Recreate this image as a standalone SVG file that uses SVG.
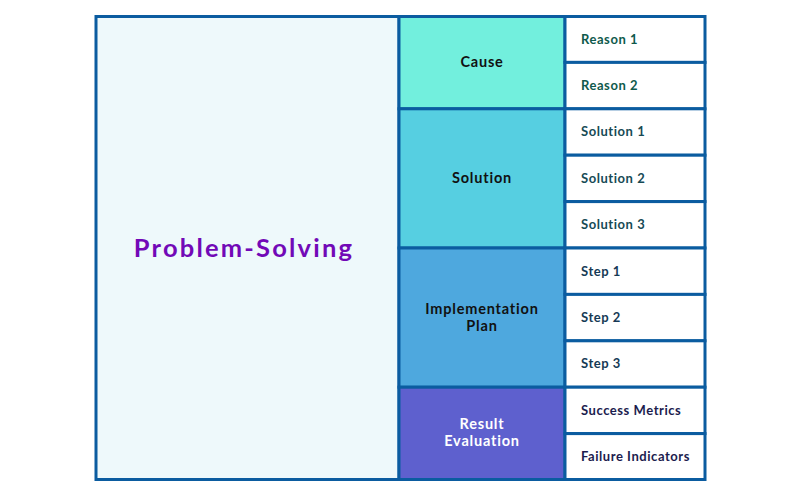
<svg xmlns="http://www.w3.org/2000/svg" width="800" height="495" viewBox="0 0 800 495">
<style>
rect{stroke:#0b5ca0;stroke-width:3}
text{font-family:Lato,"Liberation Sans",sans-serif;font-weight:700}
.cat{font-size:14.5px;letter-spacing:0.8px;text-anchor:middle;dominant-baseline:central}
.leaf{font-size:13px;letter-spacing:0.55px;dominant-baseline:central}
</style>
<rect width="800" height="495" fill="#fff" style="stroke:none"/>
<g id="root"><rect x="96" y="16.5" width="303" height="463" fill="#eef9fb"/>
<text x="244" y="247" font-size="25.5" letter-spacing="2.2" fill="#7209b7" text-anchor="middle" dominant-baseline="central">Problem-Solving</text></g>
<g id="cause"><rect x="399" y="16.5" width="166" height="92.3" fill="#72efdd"/><text class="cat" x="482" y="61.5" fill="#111">Cause</text></g>
<g id="solution"><rect x="399" y="108.8" width="166" height="139.2" fill="#56cfe1"/><text class="cat" x="482" y="177.5" fill="#111">Solution</text></g>
<g id="impl"><rect x="399" y="248" width="166" height="139.2" fill="#4ea8de"/><text class="cat" x="482" y="308" fill="#111">Implementation</text><text class="cat" x="482" y="325" fill="#111">Plan</text></g>
<g id="result"><rect x="399" y="387.2" width="166" height="92.3" fill="#5e60ce"/><text class="cat" x="482" y="423.5" fill="#fff">Result</text><text class="cat" x="482" y="440.5" fill="#fff">Evaluation</text></g>
<g id="r1"><rect x="565" y="16.5" width="140" height="45.9" fill="#fff"/><text class="leaf" x="581" y="38.8" fill="#0f5a4c">Reason 1</text></g>
<g id="r2"><rect x="565" y="62.4" width="140" height="46.4" fill="#fff"/><text class="leaf" x="581" y="85" fill="#0f5a4c">Reason 2</text></g>
<g id="s1"><rect x="565" y="108.8" width="140" height="46.4" fill="#fff"/><text class="leaf" x="581" y="131.4" fill="#174a55">Solution 1</text></g>
<g id="s2"><rect x="565" y="155.2" width="140" height="46.4" fill="#fff"/><text class="leaf" x="581" y="177.8" fill="#174a55">Solution 2</text></g>
<g id="s3"><rect x="565" y="201.6" width="140" height="46.4" fill="#fff"/><text class="leaf" x="581" y="224.2" fill="#174a55">Solution 3</text></g>
<g id="p1"><rect x="565" y="248" width="140" height="46.4" fill="#fff"/><text class="leaf" x="581" y="270.6" fill="#163a55">Step 1</text></g>
<g id="p2"><rect x="565" y="294.4" width="140" height="46.4" fill="#fff"/><text class="leaf" x="581" y="317" fill="#163a55">Step 2</text></g>
<g id="p3"><rect x="565" y="340.8" width="140" height="46.4" fill="#fff"/><text class="leaf" x="581" y="363.4" fill="#163a55">Step 3</text></g>
<g id="e1"><rect x="565" y="387.2" width="140" height="46.4" fill="#fff"/><text class="leaf" x="581" y="409.8" fill="#1c1c4e">Success Metrics</text></g>
<g id="e2"><rect x="565" y="433.6" width="140" height="45.9" fill="#fff"/><text class="leaf" x="581" y="456" fill="#1c1c4e">Failure Indicators</text></g>
<g id="connectors"></g>
</svg>
